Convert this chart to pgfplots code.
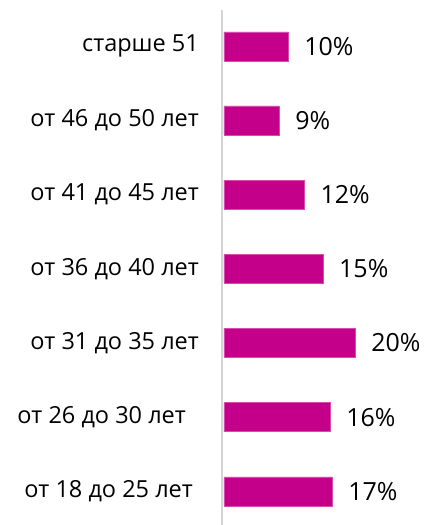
\documentclass[border=0pt]{standalone}
\usepackage{pgfplots}
\pgfplotsset{compat=1.18}
\usepackage{fontspec}
\setmainfont{Open Sans}
\definecolor{barmag}{HTML}{C4008A}
\definecolor{axgray}{HTML}{D4D4D4}
\begin{document}
\begin{tikzpicture}
\useasboundingbox (0,0) rectangle (429pt,525pt);
\begin{axis}[
  at={(222pt,0pt)}, anchor=south west,
  scale only axis,
  width=207pt, height=515pt,
  xbar, bar width=29pt,
  xmin=-0.3, xmax=31.3,
  ymin=-0.454, ymax=6.49,
  axis x line=none,
  axis y line*=left,
  y axis line style={draw=axgray, line width=2pt, -},
  ytick={0,1,2,3,4,5,6},
  yticklabels={от 18 до 25 лет\rule{6pt}{0pt}, от 26 до 30 лет\rule{13pt}{0pt}, от 31 до 35 лет, от 36 до 40 лет, от 41 до 45 лет, от 46 до 50 лет, старше 51},
  yticklabel style={font=\fontsize{23.5}{28}\selectfont, anchor=east, inner sep=0pt, xshift=-23pt},
  major tick length=0pt,
  point meta=explicit symbolic,
  nodes near coords,
  nodes near coords style={font=\fontsize{25}{30}\selectfont, anchor=west, inner sep=0pt, xshift=16pt, text=black},
]
\addplot[fill=barmag, draw=barmag!70!white, line width=0.6pt] coordinates {
  (16.5,0) [17\%]
  (16.2,1) [16\%]
  (20.0,2) [20\%]
  (15.1,3) [15\%]
  (12.26,4) [12\%]
  (8.4,5) [9\%]
  (9.77,6) [10\%]
};
\end{axis}
\end{tikzpicture}
\end{document}
